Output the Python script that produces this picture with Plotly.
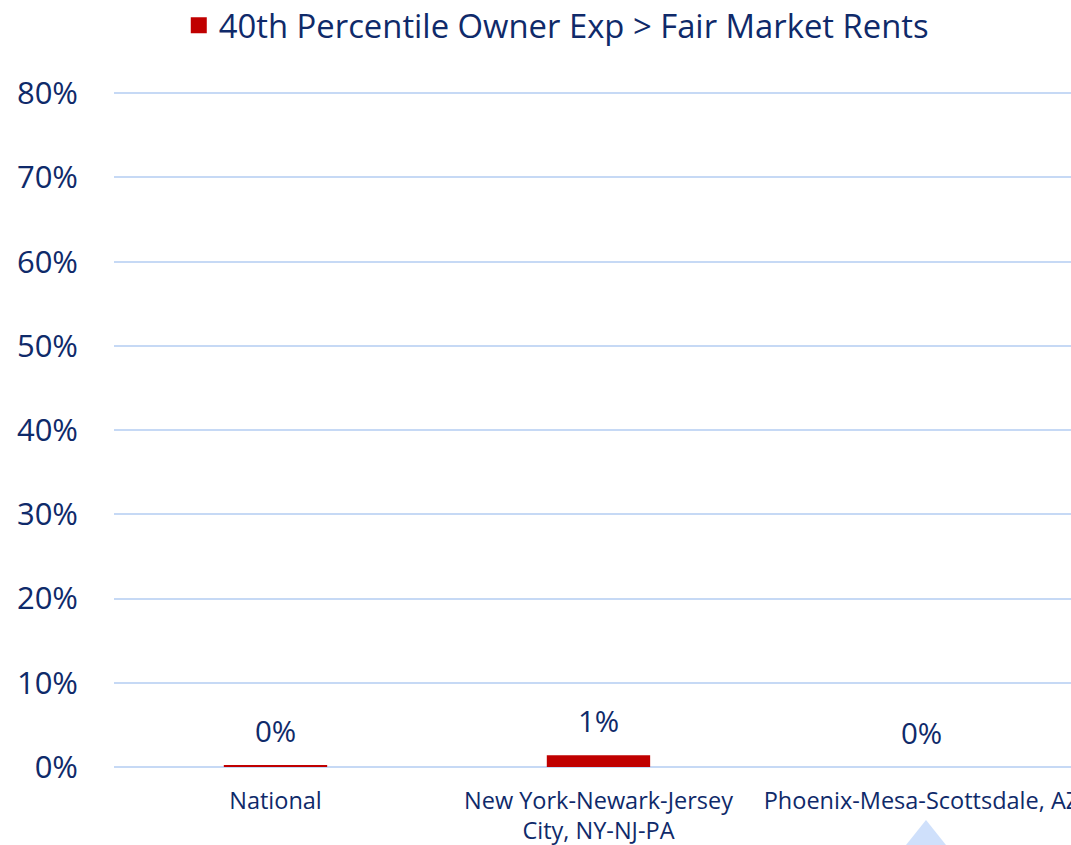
import plotly.graph_objects as go

categories = ["National", "New York-Newark-Jersey<br>City, NY-NJ-PA", "Phoenix-Mesa-Scottsdale, AZ"]
values = [0.002, 0.014, 0.0]
labels = ["0%", "1%", "0%"]
series_name = "40th Percentile Owner Exp > Fair Market Rents"
y_ticks = [0, 0.1, 0.2, 0.3, 0.4, 0.5, 0.6, 0.7, 0.8]

navy = "#0f2a6a"
red = "#c00000"
grid = "#c6d9f5"
font_family = "Open Sans, sans-serif"

fig = go.Figure()
fig.add_trace(go.Bar(
    x=categories, y=values, name=series_name,
    marker=dict(color=red, line=dict(width=0)),
    width=0.32, showlegend=False,
))
# legend entry with a larger square swatch
fig.add_trace(go.Scatter(
    x=[None], y=[None], mode="markers", name=series_name,
    marker=dict(symbol="square", size=20, color=red), showlegend=True,
))

for c, v, t in zip(categories, values, labels):
    fig.add_annotation(x=c, y=v, text=t, showarrow=False, yanchor="bottom",
                       yshift=12, font=dict(size=29.5, color=navy, family=font_family))

# plot area: x 114..1071, y 89..767
fig.add_shape(type="path", xref="paper", yref="paper",
              path="M 0.8485 -0.0782 L 0.8719 -0.1195 L 0.8251 -0.1195 Z",
              fillcolor="#cfe0fb", line=dict(width=0), layer="above")

fig.update_layout(
    width=1071, height=845,
    margin=dict(l=114, r=0, t=89, b=78, autoexpand=False),
    paper_bgcolor="white", plot_bgcolor="white",
    font=dict(family=font_family, color=navy),
    showlegend=True,
    legend=dict(orientation="h", x=0.5194, xanchor="center", xref="container",
                y=0.97, yanchor="middle", yref="container",
                font=dict(size=32.8, color=navy, family=font_family),
                itemsizing="trace", itemwidth=30),
    xaxis=dict(range=[-0.5, 2.463], showgrid=False, showline=False, zeroline=False,
               ticks="", tickfont=dict(size=23.5, color=navy), ticklabelstandoff=17,
               automargin=False),
    yaxis=dict(range=[0, 0.805], tickvals=y_ticks, tickformat=".0%",
               gridcolor=grid, gridwidth=1.5, zeroline=True, zerolinecolor=grid,
               zerolinewidth=1.5, showline=False, ticks="",
               tickfont=dict(size=31, color=navy), ticklabelstandoff=35,
               automargin=False),
)

fig.write_html("out.html", config={"displayModeBar": False},
               post_script="document.body.style.margin='0';document.body.style.overflow='hidden';")
